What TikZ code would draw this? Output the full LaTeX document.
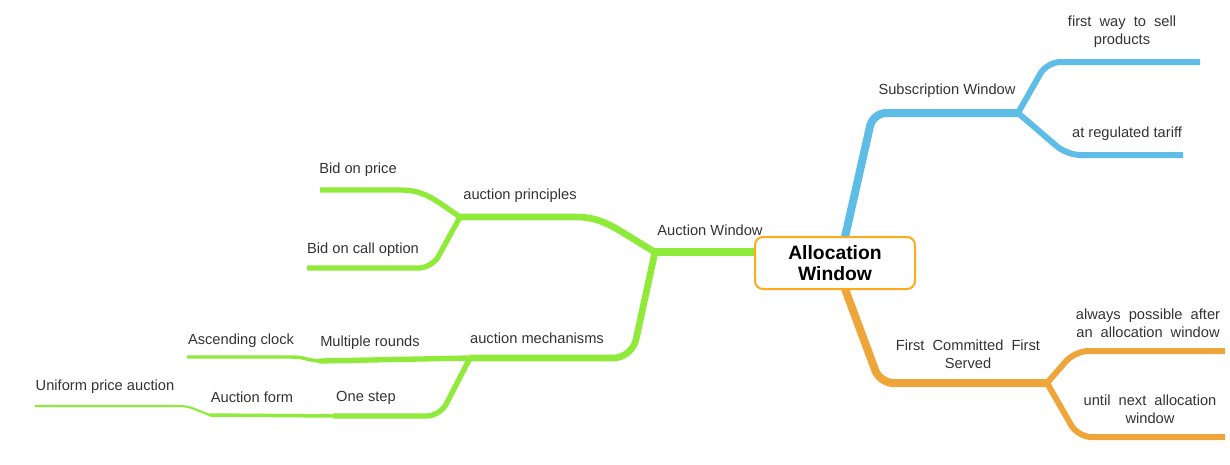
\documentclass[tikz,border=0pt]{standalone}
\usepackage{fontspec}
\setmainfont{Liberation Sans}
\definecolor{cblue}{HTML}{5EBDE7}
\definecolor{corange}{HTML}{EEA63A}
\definecolor{cgreen}{HTML}{90EA3A}
\definecolor{cbox}{HTML}{FFAA1D}
\definecolor{ctext}{HTML}{333333}
\newcommand{\ws}{\hspace{0.55em}}
\tikzset{
  lbl/.style={text=ctext, font=\fontsize{11}{13.5}\selectfont, align=center, inner sep=1pt},
  rootbox/.style={draw=cbox, line width=1.5pt, fill=white, rounded corners=6pt,
     minimum width=120pt, minimum height=39pt, font=\bfseries\fontsize{14.5}{15}\selectfont, align=center, text=black},
  br/.style={line cap=butt, line join=round, rounded corners=10pt},
}
\begin{document}
\begin{tikzpicture}[x=0.75pt,y=-0.75pt]
\useasboundingbox (0,0) rectangle (1230,464);
% junction points
\coordinate (jS) at (1018,113);
\coordinate (jF) at (1047,383);
\coordinate (jA) at (655,252);
\coordinate (jP) at (460,217);
\coordinate (jM) at (470,358);
\coordinate (jMR) at (320,361);
\coordinate (jOS) at (333,416);
\coordinate (jAF) at (210,415);
\coordinate (eS1) at (1200,62);
\coordinate (eS2) at (1183,155);
\coordinate (eF1) at (1225,351);
\coordinate (eF2) at (1225,437);
\coordinate (eP1) at (320,190);
\coordinate (eP2) at (307,268);
\coordinate (eAC) at (187,357);
\coordinate (eU) at (35,406);
% blue
\draw[br, cblue, line width=6pt] (845,237) -- (873,113) -- (jS);
\draw[br, cblue, line width=4.5pt] (jS) -- (1047,62) -- (eS1);
\draw[br, cblue, line width=4.5pt] (jS) -- (1067,155) -- (eS2);
% orange
\draw[br, corange, line width=6pt] (845,289) -- (880,383) -- (jF);
\draw[br, corange, line width=4.5pt] (jF) -- (1075,351) -- (eF1);
\draw[br, corange, line width=4.5pt] (jF) -- (1078,437) -- (eF2);
% green
\draw[cgreen, line width=6pt] (757,252) -- (jA);
\draw[cgreen, line width=5pt, line join=round] (jA) .. controls (620,232) and (605,217) .. (577,217) -- (jP);
\draw[cgreen, line width=4pt, line join=round] (jP) .. controls (435,200) and (425,190) .. (400,190) -- (eP1);
\draw[br, cgreen, line width=4pt] (jP) -- (432,268) -- (eP2);
\draw[br, cgreen, line width=5pt, rounded corners=14pt] (jA) -- (632,358) -- (jM);
\draw[cgreen, line width=4pt, line cap=round] (jM) -- (jMR);
\draw[cgreen, line width=2.6pt, line join=round] (jMR) .. controls (305,360) and (305,357) .. (292,357) -- (eAC);
\draw[br, cgreen, line width=4pt] (jM) -- (440,416) -- (jOS);
\draw[cgreen, line width=2.6pt, line cap=round] (jOS) -- (jAF);
\draw[cgreen, line width=1.6pt, line join=round] (jAF) .. controls (195,410) and (192,406) .. (178,406) -- (eU);
% root
\node[rootbox] (root) at (835,263) {Allocation\\[1pt]Window};
% labels
\node[lbl] (sub) at (947,91) {Subscription Window};
\node[lbl] (fw) at (1122,32) {first\ws way\ws to\ws sell\\products};
\node[lbl] (rt) at (1127,134) {at regulated tariff};
\node[lbl] (fc) at (968,354) {First\ws Committed\ws First\\Served};
\node[lbl] (ap) at (1148,323) {always\ws possible\ws after\\an\ws allocation\ws window};
\node[lbl] (un) at (1150,409) {until\ws next\ws allocation\\window};
\node[lbl] (aw) at (710,230) {Auction Window};
\node[lbl] (apr) at (520,196) {auction principles};
\node[lbl] (bp) at (358,170) {Bid on price};
\node[lbl] (bc) at (363,250) {Bid on call option};
\node[lbl] (am) at (537,338) {auction mechanisms};
\node[lbl] (mr) at (370,343) {Multiple rounds};
\node[lbl] (ac) at (241,341) {Ascending clock};
\node[lbl] (os) at (366,398) {One step};
\node[lbl] (af) at (252,397) {Auction form};
\node[lbl] (uf) at (105,387) {Uniform price auction};
\end{tikzpicture}
\end{document}
